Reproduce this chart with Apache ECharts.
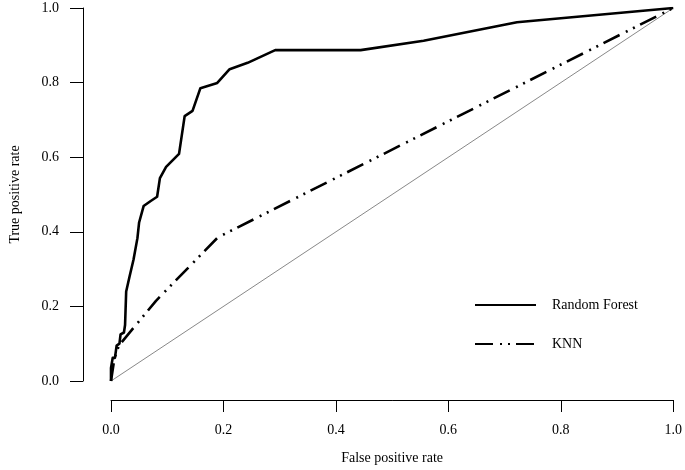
<!DOCTYPE html>
<html>
<head>
<meta charset="utf-8">
<script src="https://cdn.jsdelivr.net/npm/echarts@6/dist/echarts.min.js"></script>
<style>html,body{margin:0;padding:0;background:#fff;}#c{width:685px;height:470px;}</style>
</head>
<body>
<div id="c"></div>
<script>
var xTicks = [0, 0.2, 0.4, 0.6, 0.8, 1.0];
var yTicks = [0, 0.2, 0.4, 0.6, 0.8, 1.0];
var rfFPR = [0, 0, 0.003, 0.007, 0.010, 0.015, 0.017, 0.023, 0.025, 0.027, 0.033, 0.040, 0.047, 0.050, 0.058, 0.070, 0.082, 0.087, 0.098, 0.121, 0.131, 0.145, 0.159, 0.189, 0.211, 0.243, 0.292, 0.444, 0.556, 0.722, 1.0];
var rfTPR = [0, 0.035, 0.062, 0.062, 0.095, 0.100, 0.125, 0.130, 0.150, 0.240, 0.280, 0.325, 0.383, 0.425, 0.469, 0.482, 0.494, 0.544, 0.574, 0.609, 0.710, 0.724, 0.785, 0.799, 0.836, 0.853, 0.887, 0.887, 0.912, 0.962, 1.0];
var knnFPR = [0, 0.006, 0.014, 0.080, 0.190, 1.0];
var knnTPR = [0, 0.060, 0.095, 0.215, 0.385, 1.0];
var diagFPR = [0, 1];
var diagTPR = [0, 1];
var seriesNames = ['Random Forest', 'KNN'];

function zip(a, b) { return a.map(function (v, i) { return [v, b[i]]; }); }

var font = 'Liberation Serif';
var chart = echarts.init(document.getElementById('c'), null, {renderer: 'canvas'});
chart.setOption({
  animation: false,
  backgroundColor: '#fff',
  textStyle: {fontFamily: font},
  grid: {left: 104, right: 9, top: 8, bottom: 89, containLabel: false},
  xAxis: {
    type: 'value', min: 0, max: 1, interval: 0.2, offset: 19,
    name: 'False positive rate', nameLocation: 'middle', nameGap: 51,
    nameTextStyle: {fontFamily: font, fontSize: 14, color: '#000'},
    axisLine: {show: true, onZero: false, lineStyle: {color: '#000', width: 1}},
    axisTick: {show: true, length: 12, inside: false, lineStyle: {color: '#000', width: 1}},
    axisLabel: {margin: 23, fontFamily: font, fontSize: 14, color: '#000',
      formatter: function (v) { return v.toFixed(1); }},
    splitLine: {show: false}
  },
  yAxis: {
    type: 'value', min: 0, max: 1, interval: 0.2, offset: 28,
    name: 'True positive rate', nameLocation: 'middle', nameGap: 61, nameRotate: 90,
    nameTextStyle: {fontFamily: font, fontSize: 14, color: '#000'},
    axisLine: {show: true, onZero: false, lineStyle: {color: '#000', width: 1}},
    axisTick: {show: true, length: 13, inside: false, lineStyle: {color: '#000', width: 1}},
    axisLabel: {margin: 24, fontFamily: font, fontSize: 14, color: '#000',
      formatter: function (v) { return v.toFixed(1); }},
    splitLine: {show: false}
  },
  legend: {
    orient: 'vertical', left: 469, top: 293,
    data: seriesNames,
    itemWidth: 61, itemHeight: 14, itemGap: 25,
    itemStyle: {opacity: 0},
    textStyle: {fontFamily: font, fontSize: 14, color: '#000', padding: [0, 0, 0, 11]},
    selectedMode: false
  },
  series: [
    {
      name: 'diag', type: 'line', data: zip(diagFPR, diagTPR), symbol: 'none',
      lineStyle: {color: '#555', width: 0.7}, silent: true, z: 1
    },
    {
      name: seriesNames[0], type: 'line', data: zip(rfFPR, rfTPR), symbol: 'none',
      lineStyle: {color: '#000', width: 2.6, cap: 'butt', join: 'round'},
      itemStyle: {color: '#000'}, z: 3
    },
    {
      name: seriesNames[1], type: 'line', data: zip(knnFPR, knnTPR), symbol: 'none',
      lineStyle: {color: '#000', width: 2.6, type: [18, 7, 2, 6, 2, 6], cap: 'butt'},
      itemStyle: {color: '#000'}, z: 2
    }
  ]
});
</script>
</body>
</html>
